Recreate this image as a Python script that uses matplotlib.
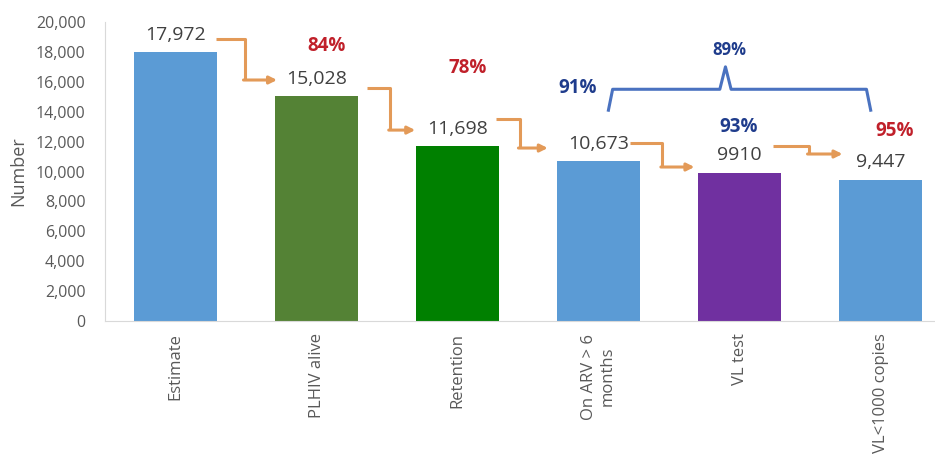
import matplotlib.pyplot as plt

plt.rcParams['font.family'] = ['Open Sans', 'DejaVu Sans']

categories = ['Estimate', 'PLHIV alive', 'Retention', 'On ARV > 6\nmonths', 'VL test', 'VL<1000 copies']
values = [17972, 15028, 11698, 10673, 9910, 9447]
value_labels = ['17,972', '15,028', '11,698', '10,673', '9910', '9,447']
colors = ['#5B9BD5', '#548235', '#008000', '#5B9BD5', '#7030A0', '#5B9BD5']

# percentage labels: (x, y, text, colour, size)
pct_labels = [
    (1.07, 18400, '84%', '#C0202A', 13.5),
    (2.07, 16900, '78%', '#C0202A', 13.5),
    (2.85, 15600, '91%', '#1F3C8C', 13.5),
    (3.99, 13000, '93%', '#1F3C8C', 13.5),
    (5.10, 12700, '95%', '#C0202A', 13.5),
    (3.93, 18100, '89%', '#1F3C8C', 12),
]

# elbow arrows between bars: (x_start, y_start, x_turn, y_end, x_end)
arrows = [
    (0.29, 18860, 0.49, 16120, 0.72),
    (1.36, 15580, 1.52, 12770, 1.70),
    (2.27, 13510, 2.44, 11570, 2.64),
    (3.22, 11900, 3.45, 10300, 3.68),
    (4.24, 11700, 4.49, 11170, 4.73),
]

fig = plt.figure(figsize=(9.35, 4.54), dpi=100)
ax = fig.add_axes([105/935, 133/454, 830/935, 299/454])

x = list(range(len(categories)))
ax.bar(x, values, width=0.585, color=colors)

for xi, v, lab in zip(x, values, value_labels):
    ax.annotate(lab, (xi, v), xytext=(0, 12.5), textcoords='offset points',
                ha='center', va='center', fontsize=14, color='#404040')

for px, py, t, c, fs in pct_labels:
    ax.text(px, py, t, ha='center', va='center', fontsize=fs,
            fontweight='bold', color=c)

arrow_col = '#E39A58'
for x0, y0, xt, y1, x1 in arrows:
    ax.plot([x0, xt, xt], [y0, y0, y1], color=arrow_col, lw=2.2,
            solid_capstyle='butt')
    ax.annotate('', xy=(x1, y1), xytext=(xt - 0.008, y1),
                arrowprops=dict(arrowstyle='-|>', color=arrow_col, lw=2.2,
                                mutation_scale=11, shrinkA=0, shrinkB=0))

# brace spanning On ARV to VL<1000
bl, br, bm = 3.07, 4.93, 3.90
by, bdown, bup = 15500, 14100, 17000
brace_col = '#4A72C0'
ax.plot([bl, bl + 0.03, bm - 0.04, bm, bm + 0.04, br - 0.03, br],
        [bdown, by, by, bup, by, by, bdown], color=brace_col, lw=2.2)

ax.set_xlim(-0.5, 5.386)
ax.set_ylim(0, 20000)
ax.set_yticks(range(0, 20001, 2000))
ax.set_yticklabels([f'{v:,}' for v in range(0, 20001, 2000)])
ax.set_xticks(x)
ax.set_xticklabels(categories, rotation=90, fontsize=12, color='#595959',
                   ha='center', va='top', multialignment='center')
ax.tick_params(axis='y', length=0, labelsize=11.5, labelcolor='#595959', pad=14)
ax.tick_params(axis='x', length=0, pad=9)
ax.set_ylabel('Number', fontsize=13, color='#595959', labelpad=6)

for s in ['top', 'right']:
    ax.spines[s].set_visible(False)
ax.spines['left'].set_color('#D9D9D9')
ax.spines['bottom'].set_color('#D9D9D9')

plt.savefig('out.png', dpi=100)
